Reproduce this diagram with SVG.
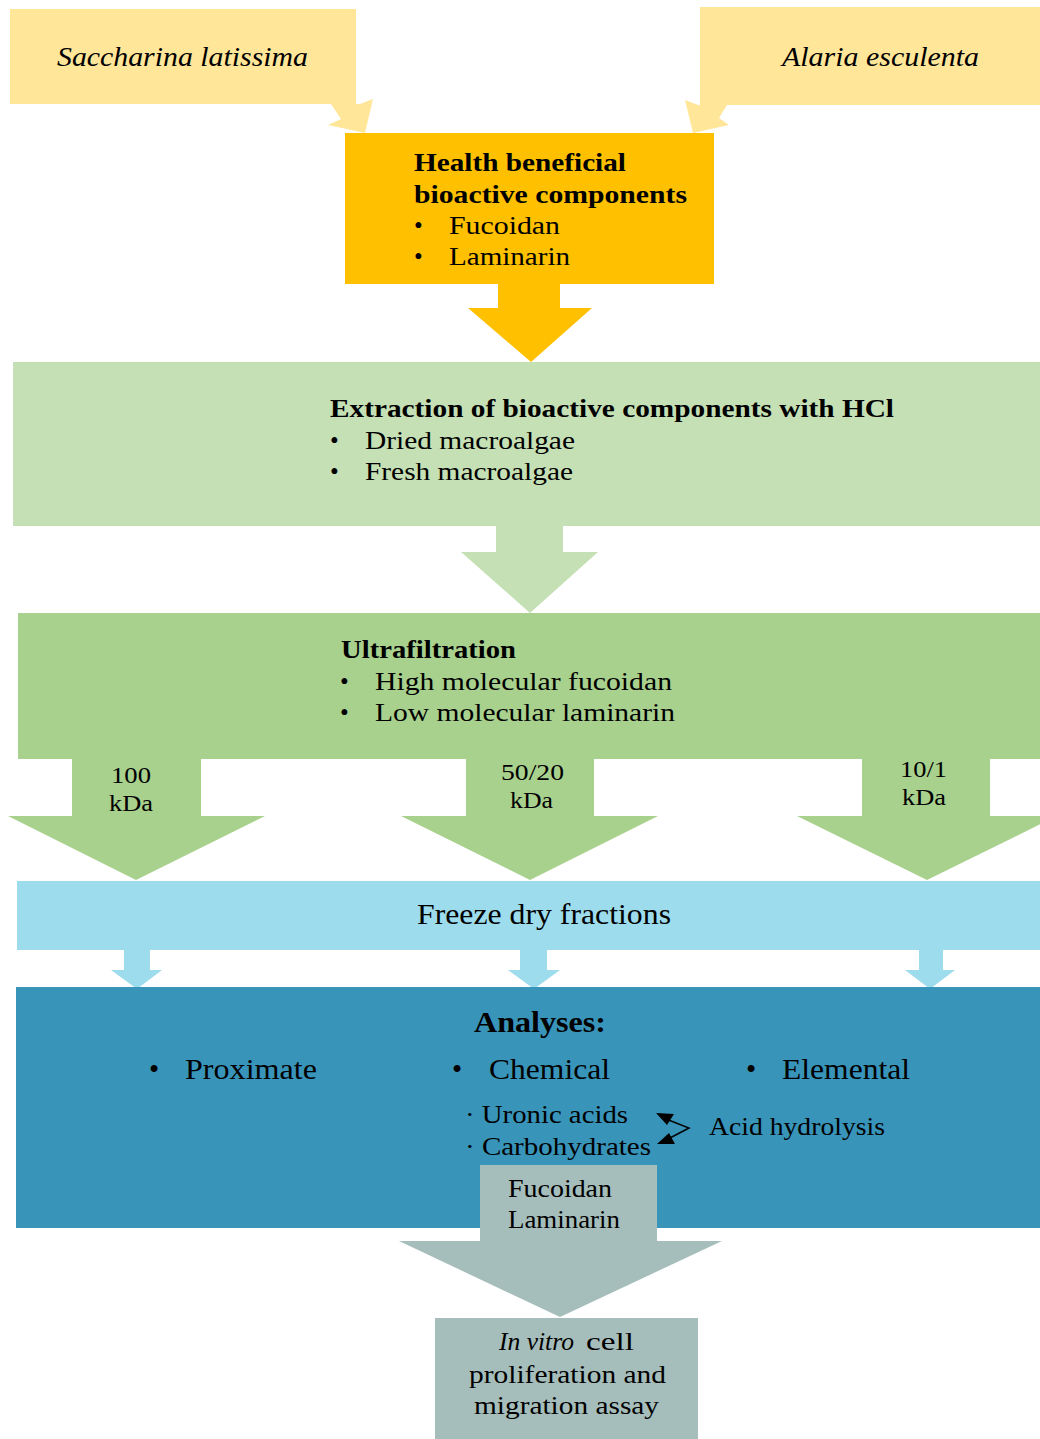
<svg xmlns="http://www.w3.org/2000/svg" width="1040" height="1439" viewBox="0 0 1040 1439" font-family="'Liberation Serif', serif">
<style>
text{font-family:'Liberation Serif',serif;fill:#000}
.b{font-weight:bold}
.i{font-style:italic}
.m{font-size:25px}
.s{font-size:23px}
.sp{font-size:27px}
.l{font-size:29px}
.yel{fill:#FFE699}
.org{fill:#FFC000}
.lg{fill:#C5E0B4}
.g{fill:#A9D18E}
.lb{fill:#9DDCEC}
.db{fill:#3994BA}
.gr{fill:#A6BEBB}
</style>
<rect width="1040" height="1439" fill="#fff"/>
<g id="connectors">
  <polygon class="yel" points="331,104 341,119 328,125 365,133 373,99 360,104"/>
  <polygon class="yel" points="727,105 719,118 729,125 693,133 685,100 698,105"/>
  <polygon class="org" points="498,284 560,284 560,308 592,308 531,362 468,308 498,308"/>
  <polygon class="lg" points="496,526 563,526 563,552 598,552 530,613 461,552 496,552"/>
  <polygon class="g" points="72,759 201,759 201,816 265,816 136,880 8,816 72,816"/>
  <polygon class="g" points="466,759 594,759 594,816 658,816 530,880 401,816 466,816"/>
  <polygon class="g" points="862,759 990,759 990,816 1057,816 927,880 797,816 862,816"/>
  <polygon class="lb" points="124,950 150,950 150,970 162,970 137,989 111,970 124,970"/>
  <polygon class="lb" points="520,950 547,950 547,970 560,970 534,989 508,970 520,970"/>
  <polygon class="lb" points="919,950 943,950 943,970 955,970 930,989 905,970 919,970"/>
  <polygon class="gr" points="480,1228 657,1228 657,1241 722,1241 560,1317 399,1241 480,1241"/>
</g>
<g id="saccharina">
  <rect class="yel" x="10" y="9" width="346" height="95"/>
  <text class="sp i" x="57" y="66" textLength="251" lengthAdjust="spacingAndGlyphs">Saccharina latissima</text>
</g>
<g id="alaria">
  <rect class="yel" x="700" y="7" width="340" height="98"/>
  <text class="sp i" x="782" y="66" textLength="197" lengthAdjust="spacingAndGlyphs">Alaria esculenta</text>
</g>
<g id="health">
  <rect class="org" x="345" y="133" width="369" height="151"/>
  <text class="m b" x="414" y="171" textLength="212" lengthAdjust="spacingAndGlyphs">Health beneficial</text>
  <text class="m b" x="414" y="203" textLength="273" lengthAdjust="spacingAndGlyphs">bioactive components</text>
  <text class="m" x="414" y="234">•</text>
  <text class="m" x="449" y="234" textLength="111" lengthAdjust="spacingAndGlyphs">Fucoidan</text>
  <text class="m" x="414" y="265">•</text>
  <text class="m" x="449" y="265" textLength="121" lengthAdjust="spacingAndGlyphs">Laminarin</text>
</g>
<g id="extraction">
  <rect class="lg" x="13" y="362" width="1027" height="164"/>
  <text class="m b" x="330" y="417" textLength="564" lengthAdjust="spacingAndGlyphs">Extraction of bioactive components with HCl</text>
  <text class="m" x="330" y="449">•</text>
  <text class="m" x="365" y="449" textLength="210" lengthAdjust="spacingAndGlyphs">Dried macroalgae</text>
  <text class="m" x="330" y="480">•</text>
  <text class="m" x="365" y="480" textLength="208" lengthAdjust="spacingAndGlyphs">Fresh macroalgae</text>
</g>
<g id="ultrafiltration">
  <rect class="g" x="18" y="613" width="1022" height="146"/>
  <text class="m b" x="341" y="658" textLength="175" lengthAdjust="spacingAndGlyphs">Ultrafiltration</text>
  <text class="m" x="340" y="690">•</text>
  <text class="m" x="375" y="690" textLength="297" lengthAdjust="spacingAndGlyphs">High molecular fucoidan</text>
  <text class="m" x="340" y="721">•</text>
  <text class="m" x="375" y="721" textLength="300" lengthAdjust="spacingAndGlyphs">Low molecular laminarin</text>
</g>
<g id="labels-kda">
  <text class="s" x="111" y="783" textLength="40" lengthAdjust="spacingAndGlyphs">100</text>
  <text class="s" x="109" y="811" textLength="44" lengthAdjust="spacingAndGlyphs">kDa</text>
  <text class="s" x="501" y="780" textLength="63" lengthAdjust="spacingAndGlyphs">50/20</text>
  <text class="s" x="510" y="808" textLength="43" lengthAdjust="spacingAndGlyphs">kDa</text>
  <text class="s" x="900" y="777" textLength="47" lengthAdjust="spacingAndGlyphs">10/1</text>
  <text class="s" x="902" y="805" textLength="44" lengthAdjust="spacingAndGlyphs">kDa</text>
</g>
<g id="freeze">
  <rect class="lb" x="17" y="881" width="1023" height="69"/>
  <text class="l" x="417" y="924" textLength="254" lengthAdjust="spacingAndGlyphs">Freeze dry fractions</text>
</g>
<g id="analyses">
  <rect class="db" x="16" y="987" width="1024" height="241"/>
  <text class="l b" x="474" y="1032" textLength="132" lengthAdjust="spacingAndGlyphs">Analyses:</text>
  <text class="l" x="149" y="1079">•</text>
  <text class="l" x="185" y="1079" textLength="132" lengthAdjust="spacingAndGlyphs">Proximate</text>
  <text class="l" x="452" y="1079">•</text>
  <text class="l" x="489" y="1079" textLength="121" lengthAdjust="spacingAndGlyphs">Chemical</text>
  <text class="l" x="746" y="1079">•</text>
  <text class="l" x="782" y="1079" textLength="128" lengthAdjust="spacingAndGlyphs">Elemental</text>
  <text class="m" x="465" y="1123" textLength="163" lengthAdjust="spacingAndGlyphs">· Uronic acids</text>
  <text class="m" x="465" y="1155" textLength="186" lengthAdjust="spacingAndGlyphs">· Carbohydrates</text>
  <text class="m" x="709" y="1135" textLength="176" lengthAdjust="spacingAndGlyphs">Acid hydrolysis</text>
</g>
<g id="hydrolysis-connector">
  <polyline points="666,1119 689,1128 668,1139" fill="none" stroke="#000" stroke-width="1.5"/>
  <polygon points="656,1113 674,1114 667,1125" fill="#000"/>
  <polygon points="657,1144 675,1144 669,1133" fill="#000"/>
</g>
<g id="fractions">
  <rect class="gr" x="480" y="1165" width="177" height="77"/>
  <text class="m" x="508" y="1197" textLength="104" lengthAdjust="spacingAndGlyphs">Fucoidan</text>
  <text class="m" x="508" y="1228" textLength="112" lengthAdjust="spacingAndGlyphs">Laminarin</text>
</g>
<g id="assay">
  <rect class="gr" x="435" y="1318" width="263" height="121"/>
  <text class="m i" x="499" y="1350" textLength="75" lengthAdjust="spacingAndGlyphs">In vitro</text>
  <text class="m" x="586" y="1350" textLength="48" lengthAdjust="spacingAndGlyphs">cell</text>
  <text class="m" x="469" y="1383" textLength="197" lengthAdjust="spacingAndGlyphs">proliferation and</text>
  <text class="m" x="474" y="1414" textLength="185" lengthAdjust="spacingAndGlyphs">migration assay</text>
</g>
</svg>
